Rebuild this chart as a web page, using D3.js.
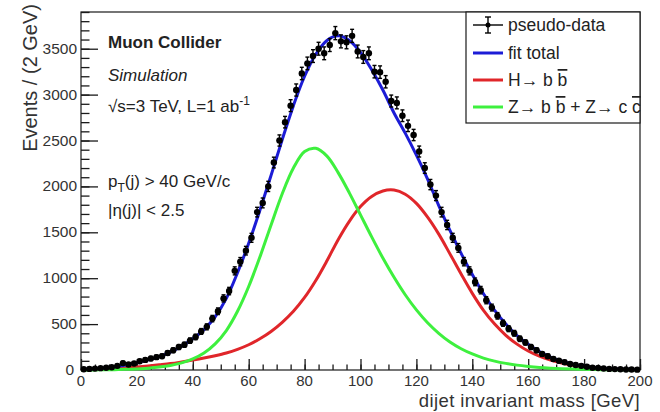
<!DOCTYPE html>
<html>
<head>
<meta charset="utf-8">
<script src="https://cdn.jsdelivr.net/npm/d3@7"></script>
<style>
  html, body { margin: 0; padding: 0; background: #fff; }
  svg { display: block; font-family: "Liberation Sans", Arial, Helvetica, sans-serif; }
</style>
</head>
<body>
<svg id="chart" width="660" height="412"></svg>
<script>
// Dijet invariant mass: binned pseudo-data (2 GeV bins) with the fitted signal shapes.
const binCenters = d3.range(1, 200, 2);
const counts = [
  8, 12, 15, 20, 25, 30, 45, 75, 60, 70,
  95, 110, 125, 140, 150, 185, 215, 250, 275, 320,
  360, 420, 470, 560, 640, 780, 860, 1080, 1180, 1300,
  1440, 1720, 1820, 2000, 2260, 2500, 2700, 2880, 3050, 3230,
  3340, 3420, 3500, 3450, 3540, 3670, 3580, 3570, 3640, 3470,
  3410, 3450, 3250, 3245, 3140, 2930, 2910, 2770, 2660, 2560,
  2380, 2200, 2020, 1900, 1720, 1580, 1440, 1330, 1180, 1080,
  960, 870, 760, 680, 590, 510, 450, 400, 340, 300,
  250, 215, 175, 150, 120, 100, 85, 65, 55, 45,
  35, 25, 22, 16, 12, 10, 8, 6, 5, 4
];

// Fit curves sampled every 4 GeV
const curveMass = d3.range(0, 201, 4);
const fitTotal = [
  8, 14, 22, 35, 55, 80, 110, 145, 195, 260,
  340, 440, 580, 780, 1060, 1380, 1740, 2120, 2510, 2880,
  3200, 3440, 3590, 3640, 3590, 3460, 3270, 3050, 2800, 2580,
  2340, 2080, 1790, 1520, 1270, 1040, 830, 650, 500, 375,
  280, 200, 140, 95, 62, 40, 26, 17, 11, 7, 5
];
const hbb = [
  3, 6, 10, 16, 24, 34, 45, 57, 70, 88,
  108, 130, 155, 185, 225, 275, 340, 420, 520, 640,
  790, 975, 1190, 1420, 1620, 1780, 1890, 1950, 1960, 1915,
  1815, 1665, 1480, 1265, 1045, 835, 650, 500, 378, 282,
  207, 150, 108, 76, 52, 35, 24, 15, 10, 6, 4
];
const zbbcc = [
  0, 1, 2, 4, 7, 12, 20, 32, 50, 78,
  120, 185, 285, 430, 640, 910, 1230, 1580, 1920, 2200,
  2380, 2415, 2330, 2150, 1930, 1690, 1450, 1220, 1010, 820,
  655, 515, 400, 305, 232, 175, 130, 97, 72, 53,
  39, 28, 20, 14, 10, 7, 5, 3, 2, 1, 1
];

const xTicks = d3.range(0, 201, 20);
const yTicks = d3.range(0, 3501, 500);

const svg = d3.select("#chart");
const pL = 81, pR = 640, pT = 12, pB = 370;

const x = d3.scaleLinear().domain([0, 200]).range([pL, pR]);
const y = d3.scaleLinear().domain([0, 3900]).range([pB, pT]);

const ink = "#1a1a1a";

// frame
svg.append("rect")
  .attr("x", pL).attr("y", pT)
  .attr("width", pR - pL).attr("height", pB - pT)
  .attr("fill", "none").attr("stroke", ink).attr("stroke-width", 1.2);

// y axis: major + minor ticks pointing into the frame
const yMajor = d3.axisRight(y).tickValues(yTicks).tickSize(17).tickFormat("");
const yMinor = d3.axisRight(y).tickValues(d3.range(0, 3901, 100)).tickSize(8.5).tickFormat("");
[yMinor, yMajor].forEach(ax => {
  const g = svg.append("g").attr("transform", `translate(${pL},0)`).call(ax);
  g.select(".domain").remove();
  g.selectAll("line").attr("stroke", ink).attr("stroke-width", 1.3);
});
svg.append("g").selectAll("text").data(yTicks).join("text")
  .attr("x", d => d === 0 ? 74 : 77)
  .attr("y", d => y(d) + 5)
  .attr("text-anchor", "end")
  .attr("font-size", 15.5).attr("fill", "#333")
  .text(d => d);

// x axis
const xMajor = d3.axisTop(x).tickValues(xTicks).tickSize(11).tickFormat("");
const xMinor = d3.axisTop(x).tickValues(d3.range(0, 201, 5)).tickSize(5.5).tickFormat("");
[xMinor, xMajor].forEach(ax => {
  const g = svg.append("g").attr("transform", `translate(0,${pB})`).call(ax);
  g.select(".domain").remove();
  g.selectAll("line").attr("stroke", ink).attr("stroke-width", 1.3);
});
svg.append("g").selectAll("text").data(xTicks).join("text")
  .attr("x", d => x(d))
  .attr("y", 386)
  .attr("text-anchor", "middle")
  .attr("font-size", 15).attr("fill", "#333")
  .text(d => d);

// axis titles
svg.append("text")
  .attr("transform", "translate(37,4) rotate(-90)")
  .attr("text-anchor", "end")
  .attr("font-size", 20).attr("fill", "#333")
  .text("Events / (2 GeV)");
svg.append("text")
  .attr("x", pR).attr("y", 407)
  .attr("text-anchor", "end")
  .attr("font-size", 18.5).attr("letter-spacing", 0.4).attr("fill", "#333")
  .text("dijet invariant mass [GeV]");

// fit curves
const line = d3.line()
  .x((d, i) => x(curveMass[i]))
  .y(d => y(d))
  .curve(d3.curveCatmullRom.alpha(0.5));

const colBlue = "#1c1cd6", colRed = "#e0262a", colGreen = "#3ef03e";
const plot = svg.append("g");
plot.append("path").datum(hbb).attr("d", line)
  .attr("fill", "none").attr("stroke", colRed).attr("stroke-width", 3);
plot.append("path").datum(zbbcc).attr("d", line)
  .attr("fill", "none").attr("stroke", colGreen).attr("stroke-width", 3);
plot.append("path").datum(fitTotal).attr("d", line)
  .attr("fill", "none").attr("stroke", colBlue).attr("stroke-width", 3);

// pseudo-data with Poisson error bars
const pts = binCenters.map((m, i) => ({ m, n: counts[i], e: Math.sqrt(counts[i]) }));
const dg = plot.append("g").attr("stroke", "#000").attr("stroke-width", 1.4);
dg.selectAll("line.h").data(pts).join("line").attr("class", "h")
  .attr("x1", d => x(d.m - 1)).attr("x2", d => x(d.m + 1))
  .attr("y1", d => y(d.n)).attr("y2", d => y(d.n));
dg.selectAll("line.v").data(pts).join("line").attr("class", "v")
  .attr("x1", d => x(d.m)).attr("x2", d => x(d.m))
  .attr("y1", d => y(d.n + d.e) - 1).attr("y2", d => y(Math.max(0, d.n - d.e)) + 1);
dg.selectAll("line.ct").data(pts).join("line").attr("class", "ct")
  .attr("x1", d => x(d.m) - 2).attr("x2", d => x(d.m) + 2)
  .attr("y1", d => y(d.n + d.e) - 1).attr("y2", d => y(d.n + d.e) - 1);
dg.selectAll("line.cb").data(pts).join("line").attr("class", "cb")
  .attr("x1", d => x(d.m) - 2).attr("x2", d => x(d.m) + 2)
  .attr("y1", d => y(Math.max(0, d.n - d.e)) + 1).attr("y2", d => y(Math.max(0, d.n - d.e)) + 1);
plot.append("g").selectAll("circle").data(pts).join("circle")
  .attr("cx", d => x(d.m)).attr("cy", d => y(d.n))
  .attr("r", 3.2).attr("fill", "#000");

// annotation block
const txt = svg.append("g").attr("font-size", 17).attr("fill", "#222");
txt.append("text").attr("x", 108).attr("y", 48).attr("font-weight", "bold").text("Muon Collider");
txt.append("text").attr("x", 108).attr("y", 81).attr("font-style", "italic").text("Simulation");
const sq = txt.append("text").attr("x", 108).attr("y", 112);
sq.append("tspan").text("\u221As=3 TeV, L=1 ab");
sq.append("tspan").attr("dy", -7).attr("font-size", 12).text("-1");
const ptxt = txt.append("text").attr("x", 108).attr("y", 187);
ptxt.append("tspan").text("p");
ptxt.append("tspan").attr("dy", 5).attr("font-size", 12).text("T");
ptxt.append("tspan").attr("dy", -5).text("(j) > 40 GeV/c");
txt.append("text").attr("x", 108).attr("y", 216).text("|\u03B7(j)| < 2.5");

// legend
const lg = svg.append("g");
lg.append("rect").attr("x", 466).attr("y", pT).attr("width", pR - 466).attr("height", 111)
  .attr("fill", "#fff").attr("stroke", ink).attr("stroke-width", 1.2);
const rows = [25, 53, 80, 107];
const lx0 = 473, lx1 = 503, tx = 508;
// pseudo-data entry
lg.append("line").attr("x1", lx0).attr("x2", lx1).attr("y1", rows[0]).attr("y2", rows[0])
  .attr("stroke", "#000").attr("stroke-width", 1.4);
lg.append("line").attr("x1", 488).attr("x2", 488).attr("y1", rows[0] - 8).attr("y2", rows[0] + 8)
  .attr("stroke", "#000").attr("stroke-width", 1.4);
[-8, 8].forEach(o => lg.append("line").attr("x1", 485).attr("x2", 491)
  .attr("y1", rows[0] + o).attr("y2", rows[0] + o).attr("stroke", "#000").attr("stroke-width", 1.4));
lg.append("circle").attr("cx", 488).attr("cy", rows[0]).attr("r", 2.5).attr("fill", "#000");
[[colBlue, rows[1]], [colRed, rows[2]], [colGreen, rows[3]]].forEach(([c, yy]) =>
  lg.append("line").attr("x1", lx0).attr("x2", lx1).attr("y1", yy).attr("y2", yy)
    .attr("stroke", c).attr("stroke-width", 3));
const lt = lg.append("g").attr("font-size", 17.5).attr("fill", "#222");
lt.append("text").attr("x", tx).attr("y", rows[0] + 6).text("pseudo-data");
lt.append("text").attr("x", tx).attr("y", rows[1] + 6).text("fit total");
const hl = lt.append("text").attr("x", tx).attr("y", rows[2] + 6);
hl.append("tspan").text("H\u2192 b ");
hl.append("tspan").attr("text-decoration", "overline").text("b");
const zl = lt.append("text").attr("x", tx).attr("y", rows[3] + 6);
zl.append("tspan").text("Z\u2192 b ");
zl.append("tspan").attr("text-decoration", "overline").text("b");
zl.append("tspan").text(" + Z\u2192 c ");
zl.append("tspan").attr("text-decoration", "overline").text("c");
</script>
</body>
</html>
